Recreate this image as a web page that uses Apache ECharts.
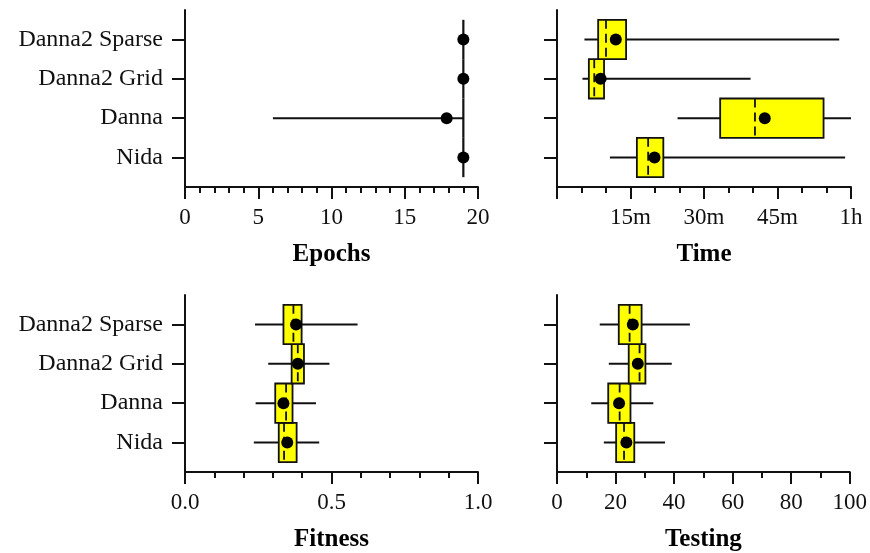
<!DOCTYPE html>
<html>
<head>
<meta charset="utf-8">
<title>Run statistics</title>
<script src="https://cdn.jsdelivr.net/npm/echarts@6/dist/echarts.min.js"></script>
<style>
  html, body { margin: 0; padding: 0; background: #fff; }
  #chart { width: 870px; height: 553px; }
</style>
</head>
<body>
<div id="chart"></div>
<script>
// Methods, listed bottom to top (y position 1..4)
const categories = ['Nida', 'Danna', 'Danna2 Grid', 'Danna2 Sparse'];

// Each row: [min, q1, median, q3, max, mean], one row per method in the order above
const epochsStats = [
  [19, 19, 19, 19, 19, 19],
  [6, 19, 19, 19, 19, 17.86],
  [19, 19, 19, 19, 19, 19],
  [19, 19, 19, 19, 19, 19]
];
// minutes
const timeStats = [
  [10.8, 16.3, 18.6, 21.7, 58.8, 19.9],
  [24.6, 33.3, 40.4, 54.4, 60.0, 42.4],
  [5.2, 6.5, 7.6, 9.6, 39.5, 8.9],
  [5.6, 8.4, 10.0, 14.1, 57.6, 12.0]
];
const fitnessStats = [
  [0.235, 0.320, 0.338, 0.381, 0.458, 0.349],
  [0.241, 0.308, 0.345, 0.367, 0.447, 0.336],
  [0.284, 0.364, 0.385, 0.406, 0.493, 0.385],
  [0.239, 0.336, 0.370, 0.398, 0.589, 0.379]
];
const testingStats = [
  [16.0, 20.2, 22.9, 26.4, 36.9, 23.7],
  [11.7, 17.5, 21.4, 25.1, 32.9, 21.2],
  [17.7, 24.5, 28.2, 30.2, 39.2, 27.6],
  [14.6, 21.1, 24.8, 28.9, 45.4, 25.9]
];

// Axis titles and time tick labels
const panelTitles = ['Epochs', 'Time', 'Fitness', 'Testing'];
const timeTickLabels = { 15: '15m', 30: '30m', 45: '45m', 60: '1h' };

const SERIF = "'Liberation Serif', 'Times New Roman', serif";
const INK = '#111';
const BOX_HALF = 0.5; // half box height in category units

function rows(stats) {
  return stats.map((s, i) => [i + 1].concat(s));
}

function renderBox(params, api) {
  const y = api.value(0);
  const lo = api.coord([api.value(1), y]);
  const q1 = api.coord([api.value(2), y + BOX_HALF]);
  const q3 = api.coord([api.value(4), y - BOX_HALF]);
  const medTop = api.coord([api.value(3), y + BOX_HALF]);
  const medBot = api.coord([api.value(3), y - BOX_HALF]);
  const hi = api.coord([api.value(5), y]);
  const mean = api.coord([api.value(6), y]);
  const flat = Math.abs(q3[0] - q1[0]) < 0.5;
  const box = flat
    // a box with no spread collapses to a solid edge
    ? { type: 'line', shape: { x1: q1[0], y1: q1[1], x2: q1[0], y2: q3[1] },
        style: { stroke: INK, lineWidth: 2.2 } }
    : { type: 'rect', shape: { x: q1[0], y: q1[1], width: q3[0] - q1[0], height: q3[1] - q1[1] },
        style: { fill: '#ffff00', stroke: INK, lineWidth: 1.8 } };
  const children = [
    { type: 'line', shape: { x1: lo[0], y1: lo[1], x2: hi[0], y2: hi[1] },
      style: { stroke: INK, lineWidth: 2 } },
    box
  ];
  if (!flat) {
    children.push({ type: 'line', shape: { x1: medTop[0], y1: medTop[1], x2: medBot[0], y2: medBot[1] },
      style: { stroke: INK, lineWidth: 1.8, lineDash: [9, 5] } });
  }
  children.push({ type: 'circle', shape: { cx: mean[0], cy: mean[1], r: 6 }, style: { fill: '#000' } });
  return { type: 'group', children: children };
}

const grids = [
  { left: 185, top: 10, width: 293, height: 177 },
  { left: 557, top: 10, width: 294, height: 177 },
  { left: 185, top: 295, width: 293, height: 178 },
  { left: 557, top: 295, width: 294, height: 178 }
];

const axisLine = { show: true, lineStyle: { color: INK, width: 2 } };
const tickLabel = { fontFamily: SERIF, fontSize: 23, color: '#111', margin: 19 };

function minor(n) {
  return { show: true, splitNumber: n, length: 6, lineStyle: { color: INK, width: 2 } };
}

function xAxisFor(i, opts) {
  return Object.assign({
    gridIndex: i,
    type: 'value',
    name: panelTitles[i],
    nameLocation: 'middle',
    nameGap: 55,
    nameTextStyle: { fontFamily: SERIF, fontSize: 25, fontWeight: 'bold', color: '#000' },
    axisLine: axisLine,
    axisTick: { show: true, inside: false, length: 12, lineStyle: { color: INK, width: 2 } },
    splitLine: { show: false },
    minorSplitLine: { show: false },
    axisLabel: Object.assign({}, tickLabel)
  }, opts);
}

function yAxisFor(i, showLabels) {
  return {
    gridIndex: i,
    type: 'value',
    min: 0.25,
    max: 4.75,
    axisLine: axisLine,
    axisTick: { show: true, length: 13, customValues: [1, 2, 3, 4], lineStyle: { color: INK, width: 2 } },
    splitLine: { show: false },
    axisLabel: {
      show: showLabels,
      customValues: [1, 2, 3, 4],
      formatter: v => categories[Math.round(v) - 1] || '',
      fontFamily: SERIF, fontSize: 24, color: '#111', margin: 22
    }
  };
}

const option = {
  animation: false,
  backgroundColor: '#fff',
  grid: grids,
  xAxis: [
    xAxisFor(0, { min: 0, max: 20, interval: 5, minorTick: minor(5) }),
    xAxisFor(1, { min: 0, max: 60, interval: 15, minorTick: minor(3),
      axisLabel: Object.assign({}, tickLabel, { formatter: v => timeTickLabels[v] || '' }) }),
    xAxisFor(2, { min: 0, max: 1, interval: 0.5, minorTick: minor(5),
      axisLabel: Object.assign({}, tickLabel, { formatter: v => v.toFixed(1) }) }),
    xAxisFor(3, { min: 0, max: 100, interval: 20, minorTick: minor(2) })
  ],
  yAxis: [yAxisFor(0, true), yAxisFor(1, false), yAxisFor(2, true), yAxisFor(3, false)],
  series: [epochsStats, timeStats, fitnessStats, testingStats].map((stats, i) => ({
    type: 'custom',
    xAxisIndex: i,
    yAxisIndex: i,
    renderItem: renderBox,
    encode: { x: [1, 2, 3, 4, 5, 6], y: 0 },
    data: rows(stats),
    clip: false
  }))
};

const chart = echarts.init(document.getElementById('chart'), null, { renderer: 'canvas' });
chart.setOption(option);
</script>
</body>
</html>
